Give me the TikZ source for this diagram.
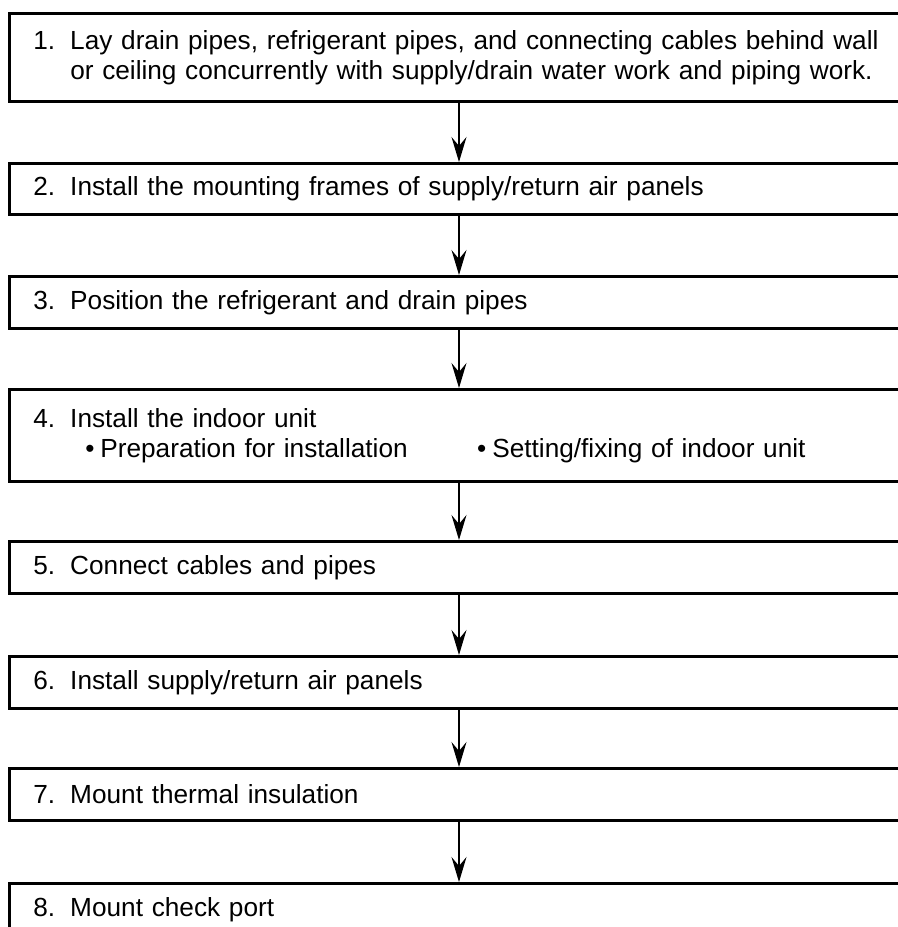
\documentclass[tikz,border=0pt]{standalone}
\usepackage{fontspec}
\setmainfont{Liberation Sans}
\usetikzlibrary{arrows.meta}
\tikzset{
  every picture/.style={line join=miter, >=Stealth},
  stepbox/.style={draw, line width=1.25pt, rectangle, anchor=north west,
    text width=430pt, inner xsep=12pt, inner ysep=0pt, align=left,
    font=\fontsize{13.1pt}{15pt}\selectfont},
  flow/.style={-{Stealth[length=12.5pt,width=7.5pt,inset=4.5pt]}, line width=0.6pt},
}
\newcommand{\steptext}[2]{\noindent\makebox[18.5pt][l]{#1}\parbox[t]{405pt}{#2}}

\begin{document}
\begin{tikzpicture}[x=0.5pt,y=-0.5pt]
\useasboundingbox (0,0) rectangle (898,927);
\clip (0,0) rectangle (898,927);
% steps
\node[stepbox, minimum height=44pt] (s1) at (8,12)
  {\steptext{1.}{Lay drain pipes, refrigerant pipes, and connecting cables behind wall\\
   or ceiling concurrently with supply/drain water work and piping work.}};
\node[stepbox, minimum height=25.5pt] (s2) at (8,162)
  {\steptext{2.}{Install the mounting frames of supply/return air panels}};
\node[stepbox, minimum height=26pt] (s3) at (8,275)
  {\steptext{3.}{Position the refrigerant and drain pipes}};
\node[stepbox, minimum height=46pt] (s4) at (8,388)
  {\steptext{4.}{Install the indoor unit\\
   \hspace*{7.5pt}\makebox[196pt][l]{\textbullet\hspace{3pt}Preparation for installation}\textbullet\hspace{3pt}Setting/fixing of indoor unit}};
\node[stepbox, minimum height=26pt] (s5) at (8,540)
  {\steptext{5.}{Connect cables and pipes}};
\node[stepbox, minimum height=26pt] (s6) at (8,655)
  {\steptext{6.}{Install supply/return air panels}};
\node[stepbox, minimum height=26pt] (s7) at (8,767)
  {\steptext{7.}{Mount thermal insulation}};
\node[stepbox, minimum height=26pt] (s8) at (8,882)
  {\steptext{8.}{Mount check port}};
% arrows
\coordinate (ax) at (459,0);
\draw[flow] (s1.south -| ax) -- (s2.north -| ax);
\draw[flow] (s2.south -| ax) -- (s3.north -| ax);
\draw[flow] (s3.south -| ax) -- (s4.north -| ax);
\draw[flow] (s4.south -| ax) -- (s5.north -| ax);
\draw[flow] (s5.south -| ax) -- (s6.north -| ax);
\draw[flow] (s6.south -| ax) -- (s7.north -| ax);
\draw[flow] (s7.south -| ax) -- (s8.north -| ax);
\end{tikzpicture}
\end{document}
